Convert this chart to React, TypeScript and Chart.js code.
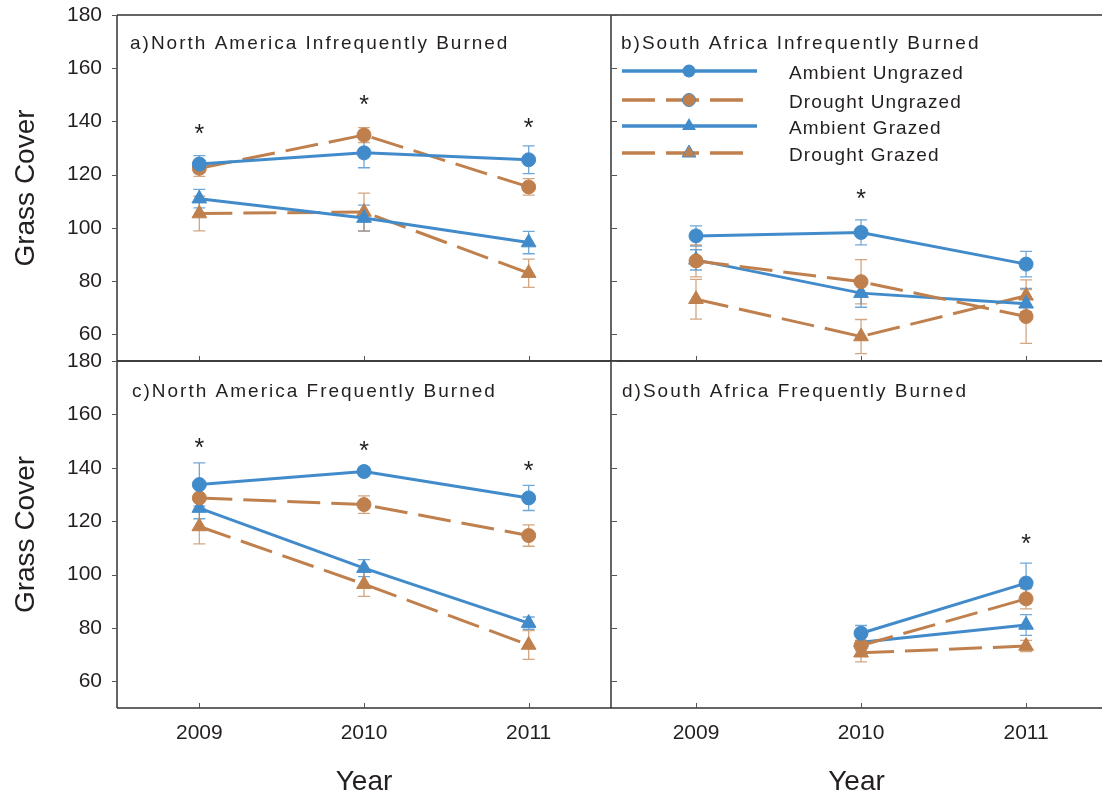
import React, { useEffect, useRef } from "react";
import { Chart, registerables } from "chart.js";

Chart.register(...registerables);

const FONT = "'Liberation Sans', Arial, Helvetica, sans-serif";

// ---------- data ----------
const years = [2009, 2010, 2011];
const yTicks = [60, 80, 100, 120, 140, 160, 180];
const seriesNames = ["Ambient Ungrazed", "Drought Ungrazed", "Ambient Grazed", "Drought Grazed"];

// a) North America Infrequently Burned
const aAmbientUngrazed = [124.0, 128.2, 125.6];
const aAmbientUngrazedErr = [3.2, 5.6, 5.2];
const aDroughtUngrazed = [122.4, 134.9, 115.4];
const aDroughtUngrazedErr = [3.0, 2.8, 3.1];
const aAmbientGrazed = [111.0, 103.7, 94.5];
const aAmbientGrazedErr = [3.5, 4.9, 4.2];
const aDroughtGrazed = [105.4, 106.0, 83.0];
const aDroughtGrazedErr = [6.5, 7.1, 5.3];
const aStarYears = [2009, 2010, 2011];
const aStarValues = [137.4, 148.3, 139.8];

// b) South Africa Infrequently Burned
const bAmbientUngrazed = [97.0, 98.3, 86.4];
const bAmbientUngrazedErr = [3.8, 4.7, 4.8];
const bDroughtUngrazed = [87.6, 79.8, 66.7];
const bDroughtUngrazedErr = [6.0, 8.3, 10.1];
const bAmbientGrazed = [88.0, 75.5, 71.5];
const bAmbientGrazedErr = [3.8, 5.3, 5.8];
const bDroughtGrazed = [73.2, 59.2, 74.5];
const bDroughtGrazedErr = [7.5, 6.4, 6.0];
const bStarYears = [2010];
const bStarValues = [113.0];

// c) North America Frequently Burned
const cAmbientUngrazed = [133.7, 138.6, 128.7];
const cAmbientUngrazedErr = [8.1, 1.5, 4.7];
const cDroughtUngrazed = [128.7, 126.2, 114.6];
const cDroughtUngrazedErr = [4.0, 3.3, 4.0];
const cAmbientGrazed = [124.9, 102.4, 81.8];
const cAmbientGrazedErr = [4.0, 3.2, 2.3];
const cDroughtGrazed = [118.0, 96.4, 73.6];
const cDroughtGrazedErr = [6.5, 4.6, 5.4];
const cStarYears = [2009, 2010, 2011];
const cStarValues = [149.5, 148.4, 141.2];

// d) South Africa Frequently Burned
const dAmbientUngrazed = [null, 78.0, 96.8];
const dAmbientUngrazedErr = [null, 2.9, 7.5];
const dDroughtUngrazed = [null, 73.4, 90.9];
const dDroughtUngrazedErr = [null, 2.0, 3.8];
const dAmbientGrazed = [null, 74.6, 81.1];
const dAmbientGrazedErr = [null, 2.5, 3.9];
const dDroughtGrazed = [null, 70.7, 73.2];
const dDroughtGrazedErr = [null, 3.4, 2.1];
const dStarYears = [2011];
const dStarValues = [113.7];

// ---------- styles ----------
const BLUE = "#428bca";
const BROWN = "#c0804d";
const STY = [
  { color: BLUE, err: "rgba(66,139,202,0.75)", dash: [] as number[], shape: "circle", r: 7 },
  { color: BROWN, err: "rgba(192,128,77,0.7)", dash: [33, 11], shape: "circle", r: 7 },
  { color: BLUE, err: "rgba(66,139,202,0.75)", dash: [] as number[], shape: "triangle", r: 8.5 },
  { color: BROWN, err: "rgba(192,128,77,0.7)", dash: [33, 11], shape: "triangle", r: 8.5 },
];
const TEXT = "#231f20";
const AXIS = "#333333";

type Spec = {
  title: string;
  values: (number | null)[][];
  errors: (number | null)[][];
  starYears: number[];
  starValues: number[];
  box: { x: number; y: number; w: number; h: number };
  pad: { top: number; right: number; bottom: number; left: number };
  yAxisW: number;
  xAxisH: number;
  xMin: number;
  xMax: number;
  showX: boolean;
  showY: boolean;
  outerYTicks: boolean;
  titleDx: number;
  titleDy: number;
  legend: boolean;
};

const panels: Spec[] = [
  {
    title: "a)North America Infrequently Burned",
    values: [aAmbientUngrazed, aDroughtUngrazed, aAmbientGrazed, aDroughtGrazed],
    errors: [aAmbientUngrazedErr, aDroughtUngrazedErr, aAmbientGrazedErr, aDroughtGrazedErr],
    starYears: aStarYears,
    starValues: aStarValues,
    box: { x: 0, y: 0, w: 620, h: 380 },
    pad: { top: 15, right: 9, bottom: 0, left: 0 },
    yAxisW: 117,
    xAxisH: 19,
    xMin: 2008.5,
    xMax: 2011.5,
    showX: false,
    showY: true,
    outerYTicks: true,
    titleDx: 13,
    titleDy: 33.5,
    legend: false,
  },
  {
    title: "b)South Africa Infrequently Burned",
    values: [bAmbientUngrazed, bDroughtUngrazed, bAmbientGrazed, bDroughtGrazed],
    errors: [bAmbientUngrazedErr, bDroughtUngrazedErr, bAmbientGrazedErr, bDroughtGrazedErr],
    starYears: bStarYears,
    starValues: bStarValues,
    box: { x: 600, y: 0, w: 502, h: 380 },
    pad: { top: 15, right: 0, bottom: 0, left: 0 },
    yAxisW: 11,
    xAxisH: 19,
    xMin: 2008.485,
    xMax: 2011.46,
    showX: false,
    showY: false,
    outerYTicks: false,
    titleDx: 10,
    titleDy: 34,
    legend: true,
  },
  {
    title: "c)North America Frequently Burned",
    values: [cAmbientUngrazed, cDroughtUngrazed, cAmbientGrazed, cDroughtGrazed],
    errors: [cAmbientUngrazedErr, cDroughtUngrazedErr, cAmbientGrazedErr, cDroughtGrazedErr],
    starYears: cStarYears,
    starValues: cStarValues,
    box: { x: 0, y: 340, w: 620, h: 459 },
    pad: { top: 21, right: 9, bottom: 0, left: 0 },
    yAxisW: 117,
    xAxisH: 91,
    xMin: 2008.5,
    xMax: 2011.5,
    showX: true,
    showY: true,
    outerYTicks: true,
    titleDx: 15,
    titleDy: 36,
    legend: false,
  },
  {
    title: "d)South Africa Frequently Burned",
    values: [dAmbientUngrazed, dDroughtUngrazed, dAmbientGrazed, dDroughtGrazed],
    errors: [dAmbientUngrazedErr, dDroughtUngrazedErr, dAmbientGrazedErr, dDroughtGrazedErr],
    starYears: dStarYears,
    starValues: dStarValues,
    box: { x: 600, y: 340, w: 502, h: 459 },
    pad: { top: 21, right: 0, bottom: 0, left: 0 },
    yAxisW: 11,
    xAxisH: 91,
    xMin: 2008.485,
    xMax: 2011.46,
    showX: true,
    showY: false,
    outerYTicks: false,
    titleDx: 11,
    titleDy: 36,
    legend: false,
  },
];

function drawMarker(ctx: CanvasRenderingContext2D, shape: string, x: number, y: number, r: number) {
  ctx.beginPath();
  if (shape === "circle") {
    ctx.arc(x, y, r, 0, Math.PI * 2);
  } else {
    for (let k = 0; k < 3; k++) {
      const a = -Math.PI / 2 + (k * 2 * Math.PI) / 3;
      const px = x + Math.cos(a) * r;
      const py = y + Math.sin(a) * r;
      if (k === 0) ctx.moveTo(px, py);
      else ctx.lineTo(px, py);
    }
    ctx.closePath();
  }
}

function makeDecor(spec: Spec) {
  return {
    id: "panelDecor",
    beforeDatasetsDraw(chart: any) {
      const ctx: CanvasRenderingContext2D = chart.ctx;
      const xs = chart.scales.x;
      const ys = chart.scales.y;
      ctx.save();
      ctx.lineWidth = 1.3;
      spec.values.forEach((vals, i) => {
        ctx.strokeStyle = STY[i].err;
        vals.forEach((v, j) => {
          const e = spec.errors[i][j];
          if (v == null || e == null) return;
          const x = xs.getPixelForValue(years[j]);
          const y1 = ys.getPixelForValue(v - e);
          const y2 = ys.getPixelForValue(v + e);
          ctx.beginPath();
          ctx.moveTo(x, y1);
          ctx.lineTo(x, y2);
          ctx.moveTo(x - 6, y1);
          ctx.lineTo(x + 6, y1);
          ctx.moveTo(x - 6, y2);
          ctx.lineTo(x + 6, y2);
          ctx.stroke();
        });
      });
      ctx.restore();
    },
    afterDraw(chart: any) {
      const ctx: CanvasRenderingContext2D = chart.ctx;
      const ca = chart.chartArea;
      const xs = chart.scales.x;
      const ys = chart.scales.y;
      ctx.save();
      // frame
      ctx.strokeStyle = AXIS;
      ctx.lineWidth = 1.5;
      ctx.beginPath();
      ctx.moveTo(ca.left, ca.top);
      ctx.lineTo(ca.right, ca.top);
      ctx.moveTo(ca.left, ca.bottom);
      ctx.lineTo(ca.right, ca.bottom);
      ctx.moveTo(ca.left, ca.top);
      ctx.lineTo(ca.left, ca.bottom);
      ctx.stroke();
      // ticks
      ctx.lineWidth = 1;
      ctx.strokeStyle = "#555";
      ctx.beginPath();
      years.forEach((yr) => {
        const x = Math.round(xs.getPixelForValue(yr)) + 0.5;
        ctx.moveTo(x, ca.bottom);
        ctx.lineTo(x, ca.bottom - 5);
      });
      yTicks.forEach((v) => {
        const y = Math.round(ys.getPixelForValue(v)) + 0.5;
        if (spec.outerYTicks) {
          ctx.moveTo(ca.left - 5, y);
          ctx.lineTo(ca.left, y);
        } else {
          ctx.moveTo(ca.left, y);
          ctx.lineTo(ca.left + 6, y);
        }
      });
      ctx.stroke();
      // panel title
      ctx.fillStyle = TEXT;
      ctx.font = `19px ${FONT}`;
      (ctx as any).letterSpacing = "2px";
      ctx.textAlign = "left";
      ctx.textBaseline = "alphabetic";
      ctx.fillText(spec.title, ca.left + spec.titleDx, ca.top + spec.titleDy);
      (ctx as any).letterSpacing = "0px";
      // significance stars
      ctx.font = `25px ${FONT}`;
      ctx.textAlign = "center";
      spec.starYears.forEach((yr, k) => {
        const x = xs.getPixelForValue(yr);
        const y = ys.getPixelForValue(spec.starValues[k]);
        ctx.fillText("*", x, y + 14);
      });
      // legend
      if (spec.legend) {
        const rows = [56, 85, 111, 138];
        STY.forEach((st, i) => {
          const y = ca.top + rows[i];
          ctx.save();
          ctx.strokeStyle = st.color;
          ctx.lineWidth = 3.5;
          ctx.setLineDash(st.dash);
          ctx.beginPath();
          ctx.moveTo(ca.left + 11, y);
          ctx.lineTo(ca.left + (st.dash.length ? 133 : 146), y);
          ctx.stroke();
          ctx.setLineDash([]);
          ctx.fillStyle = st.color;
          drawMarker(ctx, st.shape, ca.left + 78, y, st.shape === "circle" ? 6.5 : 8);
          ctx.fill();
          if (st.dash.length) {
            ctx.strokeStyle = BLUE;
            ctx.lineWidth = 1;
            ctx.stroke();
          }
          ctx.restore();
          ctx.fillStyle = TEXT;
          ctx.font = `19px ${FONT}`;
          (ctx as any).letterSpacing = "1.1px";
          ctx.textAlign = "left";
          ctx.textBaseline = "alphabetic";
          ctx.fillText(seriesNames[i], ca.left + 178, y + 8);
          (ctx as any).letterSpacing = "0px";
        });
      }
      ctx.restore();
    },
  };
}

function buildConfig(spec: Spec): any {
  return {
    type: "line",
    data: {
      datasets: spec.values.map((vals, i) => ({
        label: seriesNames[i],
        data: years.map((yr, j) => ({ x: yr, y: vals[j] })),
        borderColor: STY[i].color,
        backgroundColor: STY[i].color,
        borderWidth: 3,
        borderDash: STY[i].dash,
        pointStyle: STY[i].shape,
        pointRadius: STY[i].r,
        pointBackgroundColor: STY[i].color,
        pointBorderColor: STY[i].color,
        pointBorderWidth: 1,
        fill: false,
        tension: 0,
        spanGaps: false,
      })),
    },
    options: {
      responsive: false,
      animation: false,
      devicePixelRatio: 1,
      events: [],
      layout: { padding: spec.pad, autoPadding: false },
      plugins: { legend: { display: false }, tooltip: { enabled: false }, title: { display: false } },
      scales: {
        x: {
          type: "linear",
          min: spec.xMin,
          max: spec.xMax,
          offset: false,
          afterBuildTicks: (s: any) => {
            s.ticks = years.map((v) => ({ value: v }));
          },
          afterFit: (s: any) => {
            s.height = spec.xAxisH;
            s.paddingLeft = 0;
            s.paddingRight = 0;
          },
          grid: { display: false, drawTicks: false },
          border: { display: false },
          ticks: {
            display: spec.showX,
            padding: 13,
            color: TEXT,
            font: { size: 21, family: FONT },
            maxRotation: 0,
            autoSkip: false,
            callback: (v: any) => String(v),
          },
          title: {
            display: spec.showX,
            text: "Year",
            color: TEXT,
            font: { size: 28, family: FONT },
            padding: { top: 0, bottom: 0 },
          },
        },
        y: {
          type: "linear",
          min: 50,
          max: 180,
          afterBuildTicks: (s: any) => {
            s.ticks = yTicks.map((v) => ({ value: v }));
          },
          afterFit: (s: any) => {
            s.width = spec.yAxisW;
            s.paddingTop = 0;
            s.paddingBottom = 0;
          },
          grid: { display: false, drawTicks: false },
          border: { display: false },
          ticks: {
            display: spec.showY,
            padding: 15,
            color: TEXT,
            font: { size: 21, family: FONT },
            autoSkip: false,
            callback: (v: any) => String(v),
          },
          title: {
            display: spec.showY,
            text: "Grass Cover",
            color: TEXT,
            font: { size: 28, family: FONT },
            padding: { top: 9, bottom: 0 },
          },
        },
      },
    },
    plugins: [makeDecor(spec)],
  };
}

function Panel({ spec }: { spec: Spec }) {
  const ref = useRef<HTMLCanvasElement>(null);
  useEffect(() => {
    if (!ref.current) return;
    const chart = new Chart(ref.current, buildConfig(spec));
    return () => chart.destroy();
  }, [spec]);
  return (
    <canvas
      ref={ref}
      width={spec.box.w}
      height={spec.box.h}
      style={{
        position: "absolute",
        left: spec.box.x,
        top: spec.box.y,
        width: spec.box.w,
        height: spec.box.h,
      }}
    />
  );
}

export default function App() {
  return (
    <div
      style={{
        position: "absolute",
        left: 0,
        top: 0,
        width: 1102,
        height: 799,
        background: "#ffffff",
        overflow: "hidden",
      }}
    >
      {panels.map((p, i) => (
        <Panel key={i} spec={p} />
      ))}
    </div>
  );
}
